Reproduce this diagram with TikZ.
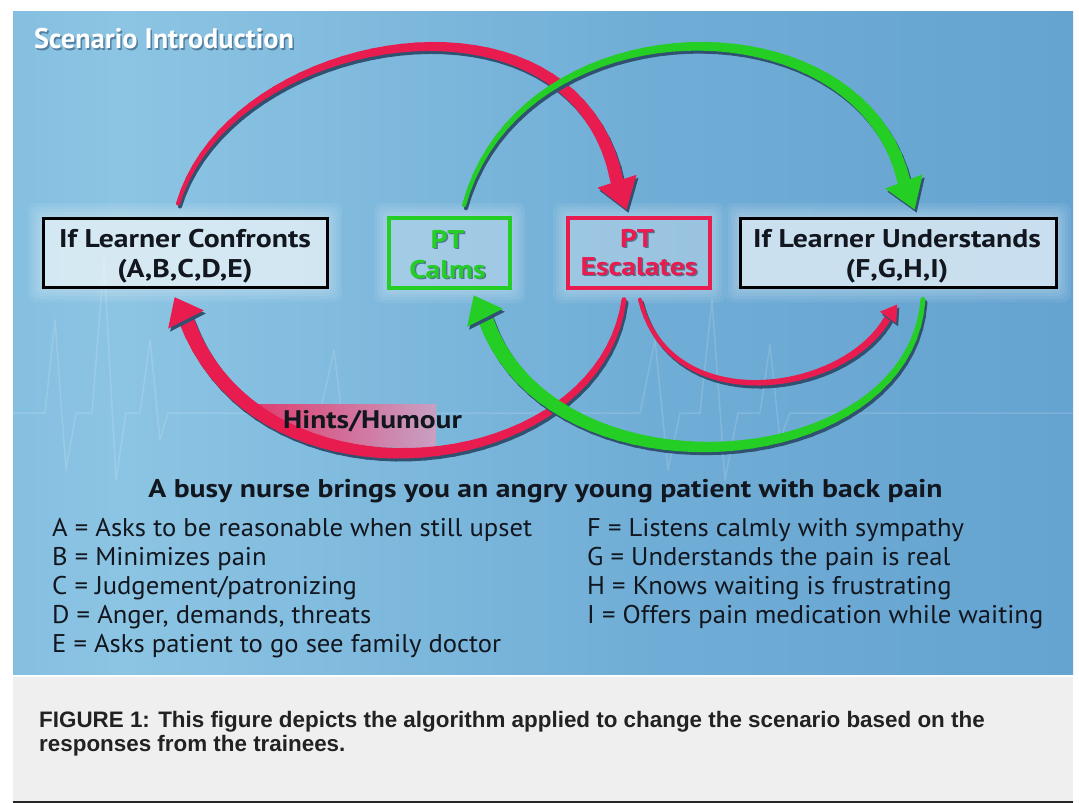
\documentclass[tikz,border=0pt]{standalone}
\usepackage{fontspec}
\setmainfont{PT Sans}
\newfontfamily\widebold[FakeStretch=1.16]{PT Sans}
\newfontfamily\widereg[FakeStretch=1.04]{PT Sans}
\newfontfamily\capfont{Liberation Sans}
\usetikzlibrary{calc}

\definecolor{myred}{RGB}{232,28,78}
\definecolor{mygreen}{RGB}{36,206,36}
\definecolor{shadowc}{RGB}{48,82,112}
\definecolor{txt}{RGB}{18,22,30}
\definecolor{capgray}{RGB}{239,239,239}
\definecolor{captxt}{RGB}{34,34,34}
\definecolor{bandstart}{RGB}{222,60,110}
\definecolor{bandend}{RGB}{200,160,195}
\definecolor{lineblack}{RGB}{38,38,38}

\pgfdeclarehorizontalshading{bgsh}{100bp}{rgb(0bp)=(0.38,0.65,0.83); rgb(30bp)=(0.55,0.77,0.89); rgb(55bp)=(0.44,0.68,0.84); rgb(100bp)=(0.34,0.59,0.79)}

% tapered curve: #1 prefix, #2 colour, #3 start, #4 c1, #5 c2, #6 end, #7 w0, #8 w1
\newcommand\taperpath[8]{%
  \foreach \k [evaluate=\k as \t using \k/40] in {0,...,40}
    {\path (#3) .. controls (#4) and (#5) .. (#6) coordinate[pos=\t] (#1\k);}
  \foreach \k [evaluate=\k as \kk using int(\k+1), evaluate=\k as \ww using #7+(#8-#7)*\k/39] in {0,...,39}
    {\draw[line width=\ww pt, shadowc, line cap=round] ($(#1\k)+(2,3)$) -- ($(#1\kk)+(2,3)$);}
  \foreach \k [evaluate=\k as \kk using int(\k+1), evaluate=\k as \ww using #7+(#8-#7)*\k/39] in {0,...,39}
    {\draw[line width=\ww pt, #2, line cap=round] (#1\k) -- (#1\kk);}
}
% arrow head: #1 colour, #2 end coordinate, #3 back coordinate, #4 length, #5 half width
\newcommand\myhead[5]{%
  \fill[shadowc] ($(#2)!-#4!(#3)+(2,3)$) -- ($(#2)!#5!90:(#3)+(2,3)$) -- ($(#2)!#5!-90:(#3)+(2,3)$) -- cycle;
  \fill[#1] ($(#2)!-#4!(#3)$) -- ($(#2)!#5!90:(#3)$) -- ($(#2)!#5!-90:(#3)$) -- cycle;
}
% soft glow round a box: #1 x0, #2 y0, #3 x1, #4 y1
\newcommand\glow[4]{%
  \foreach \g in {3,6,...,15}
    {\fill[white, opacity=0.07, rounded corners=8pt] (#1-\g,#2-\g) rectangle (#3+\g,#4+\g);}
}

\tikzset{
  bluebox/.style={draw=black, line width=3pt, fill=white, fill opacity=0.5, minimum width=#1, minimum height=69pt, inner sep=0pt},
  greenbox/.style={draw=mygreen, line width=3.5pt, minimum width=121pt, minimum height=70pt, inner sep=0pt},
  redbox/.style={draw=myred, line width=3.5pt, minimum width=142pt, minimum height=70pt, inner sep=0pt},
  boxtxt/.style={anchor=base, inner sep=0pt, text=txt, font=\widebold\bfseries\fontsize{25.6}{30}\selectfont},
  pttxt/.style={anchor=base, inner sep=0pt, font=\widebold\bfseries\fontsize{25.6}{30}\selectfont},
  listtxt/.style={anchor=base west, inner sep=0pt, text=txt, font=\widereg\fontsize{25.6}{30}\selectfont},
  captxtst/.style={anchor=base west, inner sep=0pt, text=captxt, font=\capfont\bfseries\fontsize{22.4}{26}\selectfont},
  scentxt/.style={anchor=base west, inner sep=0pt, font=\bfseries\fontsize{28.3}{32}\selectfont},
}

\begin{document}
\begin{tikzpicture}[x=1pt,y=-1pt]
\useasboundingbox (0,0) rectangle (1079,803);
\fill[white] (0,0) rectangle (1079,803);

% background panel
\fill[shading=bgsh] (13,11) rectangle (1073,674);
% faint ECG trace
\draw[white, opacity=0.14, line width=1.5pt, line join=round]
  (13,413) -- (45,413) -- (55,320) -- (66,470) -- (76,413) -- (92,413) -- (104,260) -- (116,480)
  -- (126,413) -- (140,413) -- (150,340) -- (160,440) -- (168,413) -- (320,413) -- (334,350)
  -- (346,450) -- (356,413) -- (640,413) -- (655,340) -- (668,470) -- (680,413) -- (700,413)
  -- (712,300) -- (725,480) -- (738,413) -- (760,413) -- (770,345) -- (780,440) -- (790,413) -- (1073,413);

% caption area
\fill[capgray] (13,677) rectangle (1073,800.5);
\fill[lineblack] (13,800.5) rectangle (1073,803);

% title
\node[scentxt, text=shadowc, opacity=0.6] (scens) at (35.5,50) {Scenario Introduction};
\node[scentxt, text=white] (scen) at (34,48) {Scenario Introduction};

% glows and boxes
\glow{43}{218}{327}{287}
\glow{740}{218}{1056}{287}
\glow{389}{218}{510}{288}
\glow{568}{218}{710}{288}
\node[bluebox=284pt] (conf) at (185,252.5) {};
\node[greenbox] (calms) at (449.5,253) {};
\node[redbox] (esc) at (639,253) {};
\node[bluebox=316pt] (und) at (898,252.5) {};

\node[boxtxt] (conft1) at (185,247) {If Learner Confronts};
\node[boxtxt] (conft2) at (185,277) {(A,B,C,D,E)};
\node[boxtxt] (undt1) at (897,247) {If Learner Understands};
\node[boxtxt] (undt2) at (897,277) {(F,G,H,I)};

\node[pttxt, text=shadowc, opacity=0.7] (calmt1s) at (449,249.5) {PT};
\node[pttxt, text=shadowc, opacity=0.7] (calmt2s) at (449,279.5) {Calms};
\node[pttxt, text=mygreen] (calmt1) at (447.5,248) {PT};
\node[pttxt, text=mygreen] (calmt2) at (447.5,278) {Calms};
\node[pttxt, text=shadowc, opacity=0.7] (esct1s) at (638.5,248.5) {PT};
\node[pttxt, text=shadowc, opacity=0.7] (esct2s) at (640.5,276.5) {Escalates};
\node[pttxt, text=myred] (esct1) at (637,247) {PT};
\node[pttxt, text=myred] (esct2) at (639,275) {Escalates};

% connector end points, tied to the boxes
\coordinate (rtS) at ($(conf.north)+(-7,-13)$);
\coordinate (rtE) at ($(esc.north)+(-22,-35)$);
\coordinate (gtS) at ($(calms.north)+(14.5,-11)$);
\coordinate (gtE) at ($(und.north)+(6,-35)$);
\coordinate (rbS) at ($(esc.south)+(-15,10)$);
\coordinate (rbE) at ($(conf.south)+(1,31)$);
\coordinate (rsS) at ($(esc.south)+(1,10)$);
\coordinate (rsE) at ($(und.south)+(-10,29)$);
\coordinate (gbS) at ($(und.south)+(25,11)$);
\coordinate (gbE) at ($(calms.south)+(35.5,28)$);

% top arcs
\taperpath{rt}{myred}{rtS}{230,30}{575,-30}{rtE}{4}{13}
\myhead{myred}{rt40}{rt37}{30pt}{20.5pt}
\taperpath{gt}{mygreen}{gtS}{520,0}{860,-5}{gtE}{4}{13}
\myhead{mygreen}{gt40}{gt37}{30pt}{20pt}

% Hints/Humour band
\shade[left color=bandstart, right color=bandend] (252,404) -- (436,404) -- (436,450) -- (300,442) -- cycle;

% bottom arcs
\taperpath{rb}{myred}{rbS}{600,480}{260,520}{rbE}{5}{15}
\myhead{myred}{rb40}{rb37}{25pt}{20pt}
\taperpath{rs}{myred}{rsS}{670,420}{845,395}{rsE}{4}{7}
\myhead{myred}{rs40}{rs37}{16pt}{10pt}
\taperpath{gb}{mygreen}{gbS}{910,480}{550,505}{gbE}{5}{15}
\myhead{mygreen}{gb40}{gb37}{25pt}{20pt}

\node[anchor=base west, inner sep=0pt, text=txt, font=\widebold\bfseries\fontsize{25.4}{30}\selectfont] (hints) at (283,428) {Hints/Humour};

% texts
\node[anchor=base, inner sep=0pt, text=txt, font=\widebold\bfseries\fontsize{25.6}{30}\selectfont] (title) at (545.5,497) {A busy nurse brings you an angry young patient with back pain};

\node[listtxt] (la) at (52,536) {A = Asks to be reasonable when still upset};
\node[listtxt] (lb) at (52,565) {B = Minimizes pain};
\node[listtxt] (lc) at (52,594) {C = Judgement/patronizing};
\node[listtxt] (ld) at (52,623) {D = Anger, demands, threats};
\node[listtxt] (le) at (52,652) {E = Asks patient to go see family doctor};

\node[listtxt] (lf) at (587,536) {F = Listens calmly with sympathy};
\node[listtxt] (lg) at (587,565) {G = Understands the pain is real};
\node[listtxt] (lh) at (587,594) {H = Knows waiting is frustrating};
\node[listtxt] (li) at (587,623) {I = Offers pain medication while waiting};

\node[captxtst] (cap1) at (39,727) {FIGURE 1: This figure depicts the algorithm applied to change the scenario based on the};
\node[captxtst] (cap2) at (39,751) {responses from the trainees.};
\end{tikzpicture}
\end{document}
